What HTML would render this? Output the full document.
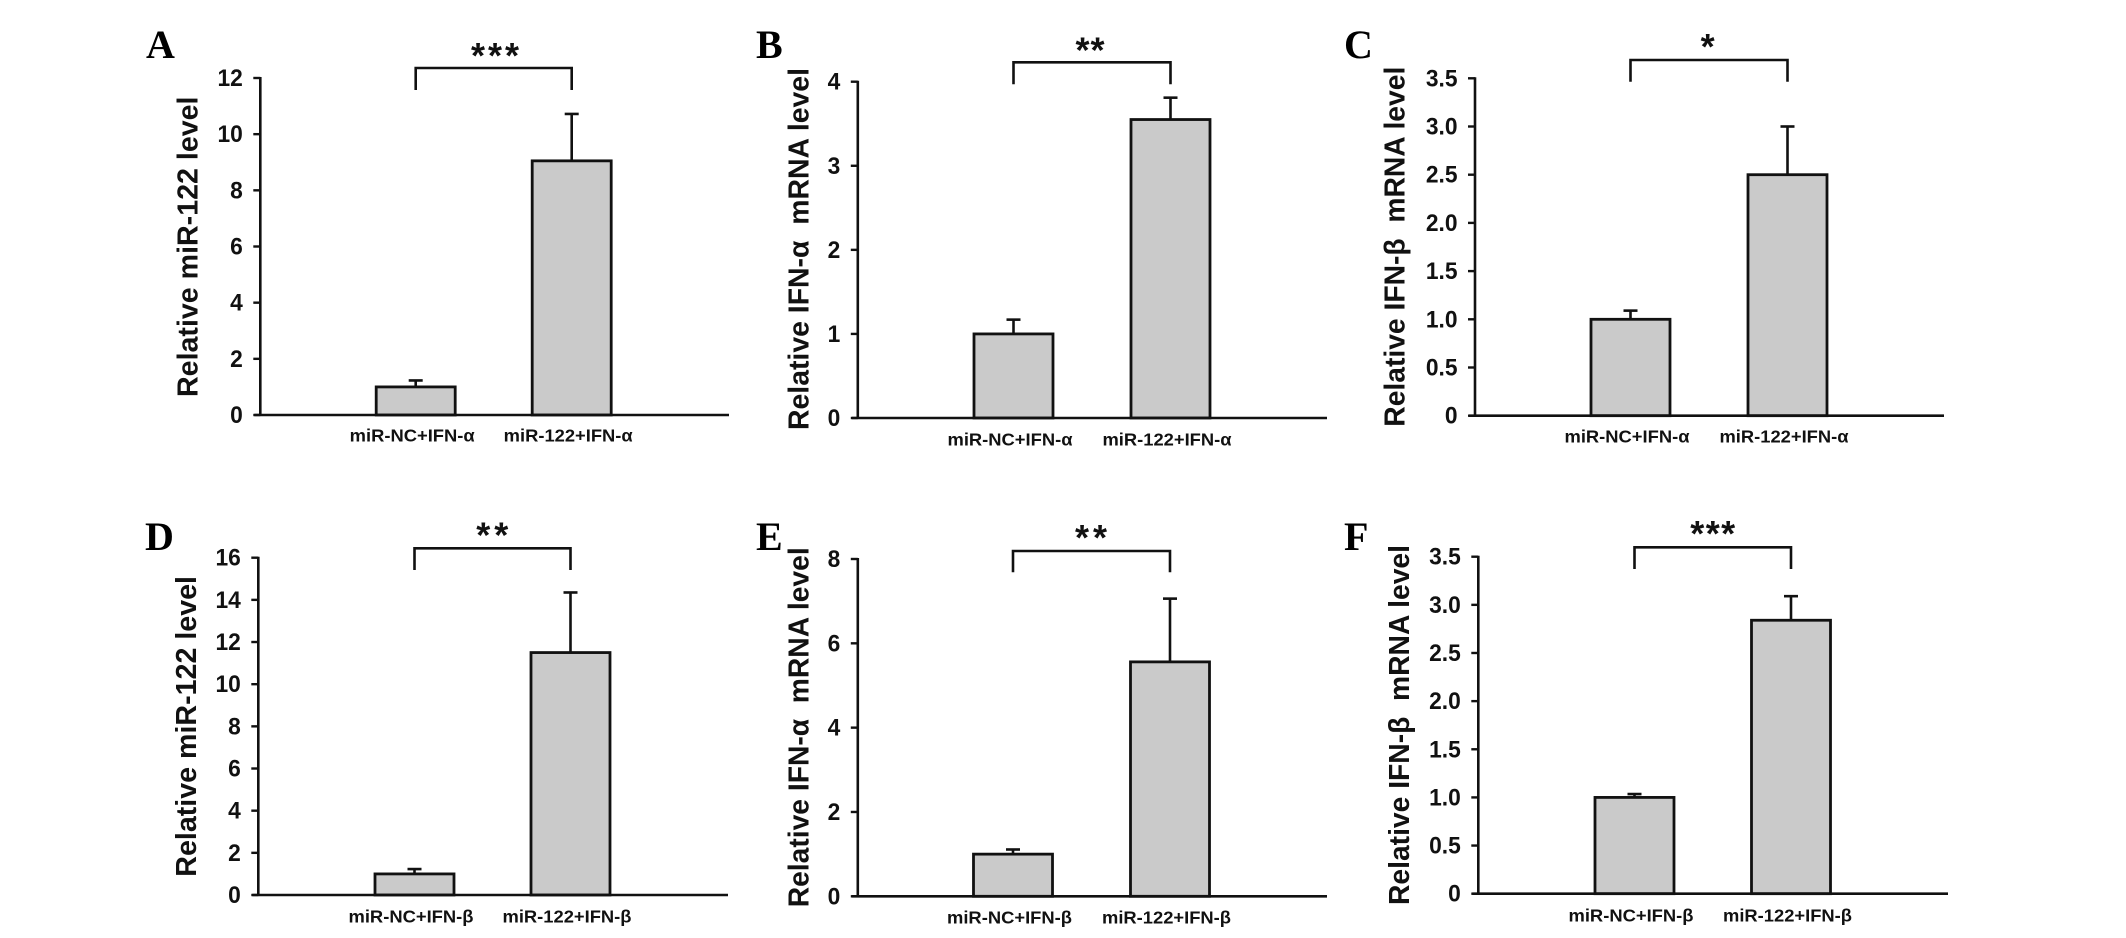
<!DOCTYPE html>
<html lang="en">
<head>
<meta charset="utf-8">
<title>miR-122 and IFN expression bar charts</title>
<style>
html,body{margin:0;padding:0;background:#fff;width:2126px;height:938px;overflow:hidden}
svg{display:block}
text{fill:#111}
.tick,.xl,.yt{font-family:"Liberation Sans",Arial,sans-serif;font-weight:bold}
.letter{font-family:"Liberation Serif","Times New Roman",serif;font-weight:bold;font-size:40px;fill:#000}
.star{font-family:"Liberation Sans",Arial,sans-serif;font-weight:bold;font-size:36px}
</style>
</head>
<body>
<svg id="figure" xmlns="http://www.w3.org/2000/svg" width="2126" height="938" viewBox="0 0 2126 938"></svg>
<script>
// ---- data ----
const categoriesAlpha = ['miR-NC+IFN-α', 'miR-122+IFN-α'];
const categoriesBeta = ['miR-NC+IFN-β', 'miR-122+IFN-β'];

const valuesA = [1.0, 9.05];
const errorsA = [0.23, 1.67];
const ticksA = ['0', '2', '4', '6', '8', '10', '12'];

const valuesB = [1.0, 3.55];
const errorsB = [0.17, 0.26];
const ticksB = ['0', '1', '2', '3', '4'];

const valuesC = [1.0, 2.5];
const errorsC = [0.09, 0.5];
const ticksC = ['0', '0.5', '1.0', '1.5', '2.0', '2.5', '3.0', '3.5'];

const valuesD = [1.0, 11.5];
const errorsD = [0.23, 2.85];
const ticksD = ['0', '2', '4', '6', '8', '10', '12', '14', '16'];

const valuesE = [1.0, 5.56];
const errorsE = [0.11, 1.5];
const ticksE = ['0', '2', '4', '6', '8'];

const valuesF = [1.0, 2.84];
const errorsF = [0.035, 0.25];
const ticksF = ['0', '0.5', '1.0', '1.5', '2.0', '2.5', '3.0', '3.5'];

const titleMir = 'Relative miR-122 level';
const titleAlpha = 'Relative IFN-α\u00a0 mRNA level';
const titleBeta = 'Relative IFN-β\u00a0 mRNA level';

// ---- layout of each panel (geometry only) ----
const panels = [
  {id:'a', letter:'A', values:valuesA, errors:errorsA, ticks:ticksA, cats:categoriesAlpha, title:titleMir, stars:'***',
   axisX:260.3, y0:415, yTop:78, right:729, c0:415.7, step:156, letterX:146, letterY:58,
   brTop:68, brBot:90, starX:495, starY:50.4, starW:48, labY:441.5, titleX:188, titleTop:96.5, titleBot:397},
  {id:'b', letter:'B', values:valuesB, errors:errorsB, ticks:ticksB, cats:categoriesAlpha, title:titleAlpha, stars:'**',
   axisX:857.8, y0:418, yTop:81.7, right:1327, c0:1013.5, step:157, letterX:756, letterY:58,
   brTop:62.3, brBot:84.3, starX:1090, starY:45, starW:29, labY:445.5, titleX:799, titleTop:68, titleBot:430},
  {id:'c', letter:'C', values:valuesC, errors:errorsC, ticks:ticksC, cats:categoriesAlpha, title:titleBeta, stars:'*',
   axisX:1475, y0:415.7, yTop:78.3, right:1944, c0:1630.5, step:157, letterX:1344, letterY:58,
   brTop:60, brBot:81.7, starX:1707.6, starY:41.7, starW:14, labY:442.5, titleX:1395, titleTop:66.7, titleBot:426.7},
  {id:'d', letter:'D', values:valuesD, errors:errorsD, ticks:ticksD, cats:categoriesBeta, title:titleMir, stars:'**',
   axisX:258.3, y0:895, yTop:557.7, right:728, c0:414.5, step:156, letterX:145, letterY:550,
   brTop:548.3, brBot:570, starX:492.3, starY:530, starW:32, labY:922.5, titleX:186.4, titleTop:576, titleBot:876.7},
  {id:'e', letter:'E', values:valuesE, errors:errorsE, ticks:ticksE, cats:categoriesBeta, title:titleAlpha, stars:'**',
   axisX:857.8, y0:896.3, yTop:559, right:1327, c0:1013, step:157, letterX:756, letterY:550,
   brTop:551, brBot:572.3, starX:1091, starY:532.7, starW:32, labY:923.5, titleX:799, titleTop:547.3, titleBot:907.3},
  {id:'f', letter:'F', values:valuesF, errors:errorsF, ticks:ticksF, cats:categoriesBeta, title:titleBeta, stars:'***',
   axisX:1478.3, y0:893.7, yTop:556.7, right:1948, c0:1634.5, step:156.5, letterX:1344, letterY:550,
   brTop:547.3, brBot:569, starX:1712.7, starY:528.3, starW:45, labY:921.5, titleX:1399.3, titleTop:545, titleBot:905}
];

const NS = 'http://www.w3.org/2000/svg';
const INK = '#111';
const BAR_W = 79;
const CAP = 7;

function add(parent, tag, attrs, txt) {
  const el = document.createElementNS(NS, tag);
  for (const k in attrs) el.setAttribute(k, attrs[k]);
  if (txt !== undefined) el.textContent = txt;
  parent.appendChild(el);
  return el;
}

const svg = document.getElementById('figure');

panels.forEach(function (p) {
  const yMax = parseFloat(p.ticks[p.ticks.length - 1]);
  const yScale = function (v) { return p.y0 - (v / yMax) * (p.y0 - p.yTop); };
  const xScale = function (i) { return p.c0 + i * p.step; };

  const g = add(svg, 'g', {});
  
  

  const letter = add(g, 'text', {class:'letter', x:p.letterX, y:p.letterY}, p.letter);
  
  

  const title = add(g, 'text', {
    class:'yt', 'font-size':'29',
    transform:'translate(' + (p.titleX + 9.5) + ',' + p.titleBot + ') rotate(-90)',
    textLength:(p.titleBot - p.titleTop), lengthAdjust:'spacingAndGlyphs'
  }, p.title);
  
  

  // bars and error bars
  p.values.forEach(function (v, i) {
    const cx = xScale(i);
    const top = yScale(v);
    const errTop = yScale(v + p.errors[i]);

    const err = add(g, 'line', {x1:cx, x2:cx, y1:top, y2:errTop, stroke:INK, 'stroke-width':2.6});
    
    

    const cap = add(g, 'line', {x1:cx - CAP, x2:cx + CAP, y1:errTop, y2:errTop, stroke:INK, 'stroke-width':2.6});
    
    

    const bar = add(g, 'rect', {x:cx - BAR_W / 2, y:top, width:BAR_W, height:p.y0 - top, fill:'#cacaca', stroke:INK, 'stroke-width':2.8});
    
    

    const lab = add(g, 'text', {
      class:'xl', 'font-size':'17.5', x:cx - 3.5, y:p.labY, 'text-anchor':'middle',
      textLength:i === 0 ? 125 : 129, lengthAdjust:'spacingAndGlyphs'
    }, p.cats[i]);
    
    
  });

  // axes
  const yAxis = add(g, 'line', {x1:p.axisX, x2:p.axisX, y1:p.yTop - 1, y2:p.y0 + 1, stroke:INK, 'stroke-width':2.6});
  
  

  const xAxis = add(g, 'line', {x1:p.axisX - 6, x2:p.right, y1:p.y0, y2:p.y0, stroke:INK, 'stroke-width':2.6});
  
  

  p.ticks.forEach(function (t) {
    const y = yScale(parseFloat(t));

    const mark = add(g, 'line', {x1:p.axisX - 7, x2:p.axisX, y1:y, y2:y, stroke:INK, 'stroke-width':2.4});
    
    

    const tl = add(g, 'text', {
      class:'tick', 'font-size':'24.5', 'text-anchor':'end',
      transform:'translate(' + (p.axisX - 17.5) + ',' + (y + 8) + ') scale(0.93,1)'
    }, t);
    
    
  });

  // significance bracket
  const x1 = xScale(0);
  const x2 = xScale(1);
  const br = add(g, 'polyline', {
    points:[x1, p.brBot, x1, p.brTop, x2, p.brTop, x2, p.brBot].join(' '),
    fill:'none', stroke:INK, 'stroke-width':2.6
  });
  
  

  const st = add(g, 'text', {
    class:'star', x:p.starX, y:p.starY + 17.5, 'text-anchor':'middle',
    textLength:p.starW, lengthAdjust:'spacing'
  }, p.stars);
  
  
});
</script>
</body>
</html>
